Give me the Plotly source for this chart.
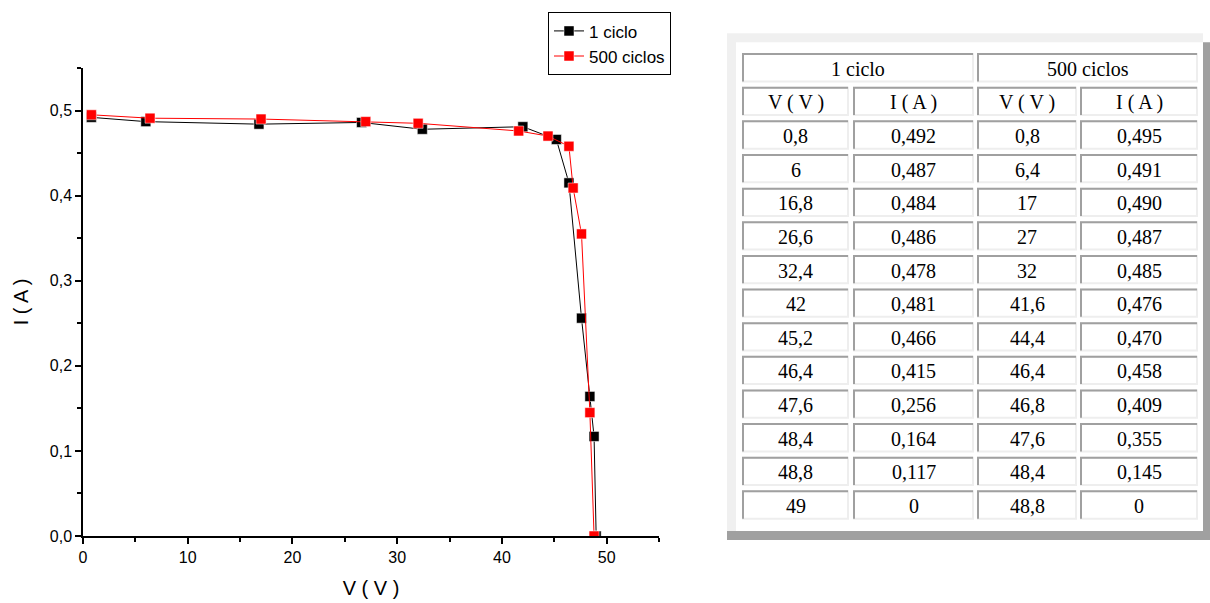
import plotly.graph_objects as go

# ---- data ----
v_1ciclo = [0.8, 6, 16.8, 26.6, 32.4, 42, 45.2, 46.4, 47.6, 48.4, 48.8, 49]
i_1ciclo = [0.492, 0.487, 0.484, 0.486, 0.478, 0.481, 0.466, 0.415, 0.256, 0.164, 0.117, 0]
v_500ciclos = [0.8, 6.4, 17, 27, 32, 41.6, 44.4, 46.4, 46.8, 47.6, 48.4, 48.8]
i_500ciclos = [0.495, 0.491, 0.490, 0.487, 0.485, 0.476, 0.470, 0.458, 0.409, 0.355, 0.145, 0]
series_names = ["1 ciclo", "500 ciclos"]
col_headers = ["V ( V )", "I ( A )", "V ( V )", "I ( A )"]

W, H = 1210, 603
L, R, T, B = 83, 659, 65, 536  # plot area in px


def px(x):
    return (x - L) / (R - L)


def py(y):
    return (B - y) / (B - T)


fig = go.Figure()
fig.add_trace(go.Scatter(
    x=v_1ciclo, y=i_1ciclo, name=series_names[0], mode="lines+markers",
    line=dict(color="black", width=1),
    marker=dict(symbol="square", size=10, color="black", line=dict(color="white", width=0.5)),
))
fig.add_trace(go.Scatter(
    x=v_500ciclos, y=i_500ciclos, name=series_names[1], mode="lines+markers",
    line=dict(color="#ff0000", width=1),
    marker=dict(symbol="square", size=10, color="#ff0000", line=dict(color="white", width=0.5)),
))

shapes = []
annotations = []


def rect(x0, y0, x1, y1, fill, line_color=None, lw=0):
    shapes.append(dict(type="rect", xref="paper", yref="paper",
                       x0=px(x0), x1=px(x1), y0=py(y1), y1=py(y0),
                       fillcolor=fill, line=dict(color=line_color or fill, width=lw),
                       layer="below"))


# table frame
rect(727, 30, 1203, 531, "#f0f0f0")
rect(736, 39, 1203, 531, "white")
rect(1203, 39, 1210, 540, "#a0a0a0")
rect(727, 531, 1210, 540, "#a0a0a0")

cols = [(743, 848), (854, 973), (978, 1076), (1081, 1197)]
spans = [(743, 973), (978, 1197)]
row_top0, pitch, ch = 51, 33.85, 27.5


def cell(x0, x1, top, text):
    bot = top + ch
    rect(x0, top, x1, bot, "white", "#eeeeee", 2)
    shapes.append(dict(type="path", xref="paper", yref="paper",
                       path=f"M {px(x0)},{py(bot)} L {px(x0)},{py(top)} L {px(x1)},{py(top)}",
                       line=dict(color="#a0a0a0", width=2), layer="below"))
    annotations.append(dict(xref="paper", yref="paper", x=px((x0 + x1) / 2), y=py(top + ch / 2 + 1),
                            text=text, showarrow=False, xanchor="center", yanchor="middle",
                            font=dict(family="Liberation Serif", size=20, color="black")))


def fv(v):
    return ("{:g}".format(v)).replace(".", ",")


def fi(v):
    return "0" if v == 0 else ("{:.3f}".format(v)).replace(".", ",")


for (x0, x1), name in zip(spans, series_names):
    cell(x0, x1, row_top0, name)
for (x0, x1), h in zip(cols, col_headers):
    cell(x0, x1, row_top0 + pitch, h)
for k in range(len(v_1ciclo)):
    top = row_top0 + (k + 2) * pitch
    vals = [fv(v_1ciclo[k]), fi(i_1ciclo[k]), fv(v_500ciclos[k]), fi(i_500ciclos[k])]
    for (x0, x1), t in zip(cols, vals):
        cell(x0, x1, top, t)

axis_font = dict(family="Liberation Sans", size=16, color="black")
title_font = dict(family="Liberation Sans", size=20, color="black")
fig.update_layout(
    width=W, height=H,
    margin=dict(l=L, r=W - R, t=T, b=H - B, pad=0),
    paper_bgcolor="white", plot_bgcolor="white",
    separators=",.",
    font=dict(family="Liberation Sans", color="black"),
    showlegend=True,
    legend=dict(x=px(548), y=py(9), xanchor="left", yanchor="top",
                bordercolor="black", borderwidth=1, bgcolor="white",
                font=dict(family="Liberation Sans", size=17, color="black"),
                tracegroupgap=0, itemwidth=30),
    xaxis=dict(range=[0, 55], showgrid=False, zeroline=False, automargin=False,
               showline=True, linecolor="black", linewidth=1.5,
               ticks="outside", tickcolor="black", ticklen=6, tickwidth=1.5,
               tick0=0, dtick=10, tickfont=axis_font,
               minor=dict(ticks="outside", ticklen=4, tickcolor="black", tickwidth=1.5, dtick=5, showgrid=False),
               title=dict(text="V ( V )", font=title_font, standoff=16)),
    yaxis=dict(range=[0, 0.55], showgrid=False, zeroline=False, automargin=False,
               showline=True, linecolor="black", linewidth=1.5,
               ticks="outside", tickcolor="black", ticklen=6, tickwidth=1.5,
               tick0=0, dtick=0.1, tickformat=".1f", tickfont=axis_font,
               minor=dict(ticks="outside", ticklen=4, tickcolor="black", tickwidth=1.5, dtick=0.05, showgrid=False),
               title=dict(text="I ( A )", font=title_font, standoff=16)),
    shapes=shapes,
    annotations=annotations,
)

fig.write_html("out.html", config={"displayModeBar": False},
               post_script="document.body.style.margin='0';document.body.style.overflow='hidden';")
